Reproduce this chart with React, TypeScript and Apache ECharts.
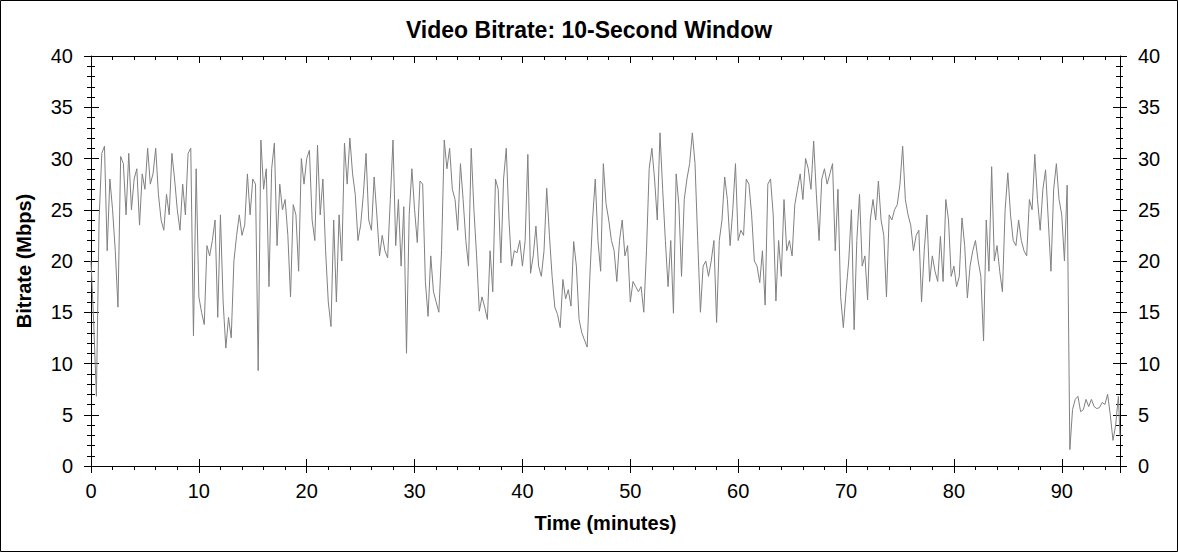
import React, { useEffect, useRef } from "react";
import * as echarts from "echarts";

// Sample spacing of the readings, in minutes
const STEP = 0.25;

// Video bitrate (Mbps), read every quarter minute
const bitrateMin00to20 = [
  20, 14, 6.8, 24,
  30.5, 31.2, 21, 28,
  25, 21, 15.5, 30.2,
  29.5, 24.5, 30.5, 25,
  28, 29, 23.5, 28.5,
  27, 31, 27.5, 28.5,
  31, 26.5, 24, 23,
  26.5, 24.5, 30.5, 28,
  25, 23, 27.5, 24.5,
  30.5, 31, 12.7, 29,
  16.5, 15, 13.8, 21.5,
  20.5, 22, 24, 14.5,
  24.5, 16, 11.5, 14.5,
  12.5, 20, 22.5, 24.5,
  22.5, 23.5, 28.5, 24.5,
  28, 27.5, 9.3, 31.8,
  27, 29, 17.5, 29,
  31.5, 21.5, 27.5, 25,
  26, 22.5, 16.5, 25.5,
  24.5, 19, 30, 27.5,
];

const bitrateMin20to40 = [
  30, 30.8, 24, 22,
  31.3, 24.5, 28, 21,
  16, 13.6, 24, 16,
  24.5, 20, 31.5, 27.5,
  32, 28.5, 26.5, 22,
  23.5, 26.5, 30.5, 24,
  23, 28.2, 24.5, 20.5,
  22.5, 21, 20.3, 26,
  31.8, 21.5, 26, 19.5,
  25.3, 11, 24.5, 29,
  25, 21.8, 27.8, 27.5,
  18, 14.6, 20.5, 17,
  16, 15, 21, 31.8,
  29, 31, 27, 26,
  23, 29.5, 26, 22,
  19.5, 31, 25, 20.5,
  15.1, 16.5, 15.5, 14.3,
  21, 17, 28, 27,
  19.8, 28, 31, 24,
  19.5, 21, 20.8, 22,
];

const bitrateMin40to60 = [
  19.5, 22, 30.4, 18.8,
  20.5, 23.4, 19.5, 18.5,
  21, 27.1, 22.5, 18.5,
  15.5, 14.8, 13.5, 18.2,
  16.3, 17.2, 15.6, 21.9,
  19.5, 14.3, 13, 12.3,
  11.6, 18.5, 24, 28,
  22, 19, 29.5, 25.6,
  24, 22, 21, 18,
  22, 24, 20.5, 21.5,
  16, 18, 17.5, 17,
  17.5, 15, 21, 29,
  31, 28, 24, 32.5,
  27, 22, 17.5, 22,
  14.9, 28.5, 25.5, 18.5,
  26, 28, 29.5, 32.5,
  29.5, 22, 15, 19.5,
  20, 18.5, 20, 22,
  14, 22, 24, 28.2,
  26, 21.5, 25, 29.5,
];

const bitrateMin60to80 = [
  22, 23, 22.5, 28,
  27.5, 24.5, 20, 19.5,
  17.9, 21, 15.7, 27.5,
  28, 24.5, 16.1, 22,
  18.5, 26, 21, 22,
  20.5, 25.5, 27, 28.5,
  26, 30, 29, 27,
  31.7, 26.5, 22, 28,
  29, 27.5, 28.5, 29.5,
  21, 27, 16.5, 13.5,
  17, 20, 25, 13.3,
  22, 26.5, 19.5, 20.5,
  16.2, 24, 26, 24,
  27.8, 24, 22.5, 16.5,
  24.5, 24, 25, 25.5,
  27.5, 31.2, 26, 24.5,
  23.5, 21, 22.5, 23,
  16, 21, 24.5, 18,
  20.5, 19, 18, 22.4,
  18, 26, 24, 18.5,
];

const bitrateMin80toEnd = [
  19.5, 17.5, 18.5, 24.2,
  21.5, 16.4, 19.5, 21,
  22, 20, 18.5, 12.2,
  24, 19, 29.2, 20,
  21.5, 19, 17, 25,
  28.6, 24.5, 22, 21.5,
  24, 22, 21, 20.5,
  26, 25, 30.4, 26,
  23, 27, 28.9, 24,
  19, 27, 29.5, 26,
  24.5, 20, 27.4, 1.6,
  5.5, 6.5, 6.8, 5.3,
  5.5, 6.5, 5.8, 6.5,
  5.8, 5.6, 5.7, 6.2,
  6, 7, 5, 2.5,
  4, 6.8,
];

// Final reading at the very end of the programme
const END_TIME = 95.4;
const END_VALUE = 2.9;

// Axis ranges
const X_MAX = 95.4;
const Y_MAX = 40;

const FONT = "'Liberation Sans', Arial, Helvetica, sans-serif";

export default function App() {
  const ref = useRef<HTMLDivElement>(null);

  useEffect(() => {
    if (!ref.current) return;
    const chart = echarts.init(ref.current, null, { renderer: "svg" });

    const values = [
      ...bitrateMin00to20,
      ...bitrateMin20to40,
      ...bitrateMin40to60,
      ...bitrateMin60to80,
      ...bitrateMin80toEnd,
    ];
    const data: number[][] = values.map((v, i) => [i * STEP, v]);
    data.push([END_TIME, END_VALUE]);

    const line = { onZero: false, lineStyle: { color: "#000", width: 1 } };
    const tickStyle = { color: "#000", width: 1 };

    const xBase = {
      type: "value",
      min: 0,
      max: X_MAX,
      interval: 10,
      splitLine: { show: false },
    };
    const yBase = {
      type: "value",
      min: 0,
      max: Y_MAX,
      interval: 5,
      splitLine: { show: false },
    };
    const labelStyle = { color: "#000", fontSize: 20, fontFamily: FONT };

    const option = {
      animation: false,
      backgroundColor: "#fff",
      textStyle: { fontFamily: FONT },
      title: {
        text: "Video Bitrate: 10-Second Window",
        left: "center",
        top: 13,
        textStyle: { fontSize: 23, fontWeight: "bold", color: "#000", fontFamily: FONT },
      },
      grid: { left: 91, right: 58, top: 56, bottom: 86, containLabel: false },
      xAxis: [
        {
          ...xBase,
          position: "bottom",
          axisLine: line,
          axisTick: { show: true, inside: false, length: 7, lineStyle: tickStyle },
          minorTick: { show: true, splitNumber: 5, length: 4, lineStyle: tickStyle },
          axisLabel: { ...labelStyle, margin: 15, showMaxLabel: false },
          name: "Time (minutes)",
          nameLocation: "middle",
          nameGap: 47,
          nameTextStyle: { fontSize: 20, fontWeight: "bold", color: "#000", fontFamily: FONT },
        },
        {
          ...xBase,
          position: "bottom",
          axisLine: { ...line, show: false },
          axisTick: { show: true, inside: true, length: 7, lineStyle: tickStyle },
          minorTick: { show: false },
          axisLabel: { show: false },
        },
        {
          ...xBase,
          position: "top",
          axisLine: line,
          axisTick: { show: true, inside: true, length: 7, lineStyle: tickStyle },
          minorTick: { show: true, splitNumber: 5, length: 4, lineStyle: tickStyle },
          axisLabel: { show: false },
        },
      ],
      yAxis: [
        {
          ...yBase,
          position: "left",
          axisLine: line,
          axisTick: { show: true, inside: false, length: 7, lineStyle: tickStyle },
          minorTick: { show: true, splitNumber: 5, length: 4, lineStyle: tickStyle },
          axisLabel: { ...labelStyle, margin: 18 },
          name: "Bitrate (Mbps)",
          nameLocation: "middle",
          nameGap: 57,
          nameTextStyle: { fontSize: 20, fontWeight: "bold", color: "#000", fontFamily: FONT },
        },
        {
          ...yBase,
          position: "left",
          axisLine: { ...line, show: false },
          axisTick: { show: true, inside: true, length: 8, lineStyle: tickStyle },
          minorTick: { show: true, splitNumber: 5, length: 4, lineStyle: tickStyle },
          axisLabel: { show: false },
        },
        {
          ...yBase,
          position: "right",
          axisLine: line,
          axisTick: { show: true, inside: false, length: 7, lineStyle: tickStyle },
          minorTick: { show: true, splitNumber: 5, length: 3, lineStyle: tickStyle },
          axisLabel: { ...labelStyle, margin: 18 },
        },
        {
          ...yBase,
          position: "right",
          axisLine: { ...line, show: false },
          axisTick: { show: true, inside: true, length: 7, lineStyle: tickStyle },
          minorTick: { show: true, splitNumber: 5, length: 4, lineStyle: tickStyle },
          axisLabel: { show: false },
        },
      ],
      graphic: [
        {
          type: "rect",
          shape: { x: 0.5, y: 0.5, width: 1177, height: 551 },
          style: { fill: "none", stroke: "#000", lineWidth: 1 },
          silent: true,
        },
      ],
      series: [
        {
          type: "line",
          xAxisIndex: 0,
          yAxisIndex: 0,
          data,
          showSymbol: false,
          symbol: "none",
          lineStyle: { color: "#808080", width: 1 },
          emphasis: { disabled: true },
        },
      ],
    };

    chart.setOption(option as any);
    return () => chart.dispose();
  }, []);

  return (
    <div
      ref={ref}
      style={{ position: "fixed", left: 0, top: 0, width: 1178, height: 552, background: "#fff" }}
    />
  );
}
